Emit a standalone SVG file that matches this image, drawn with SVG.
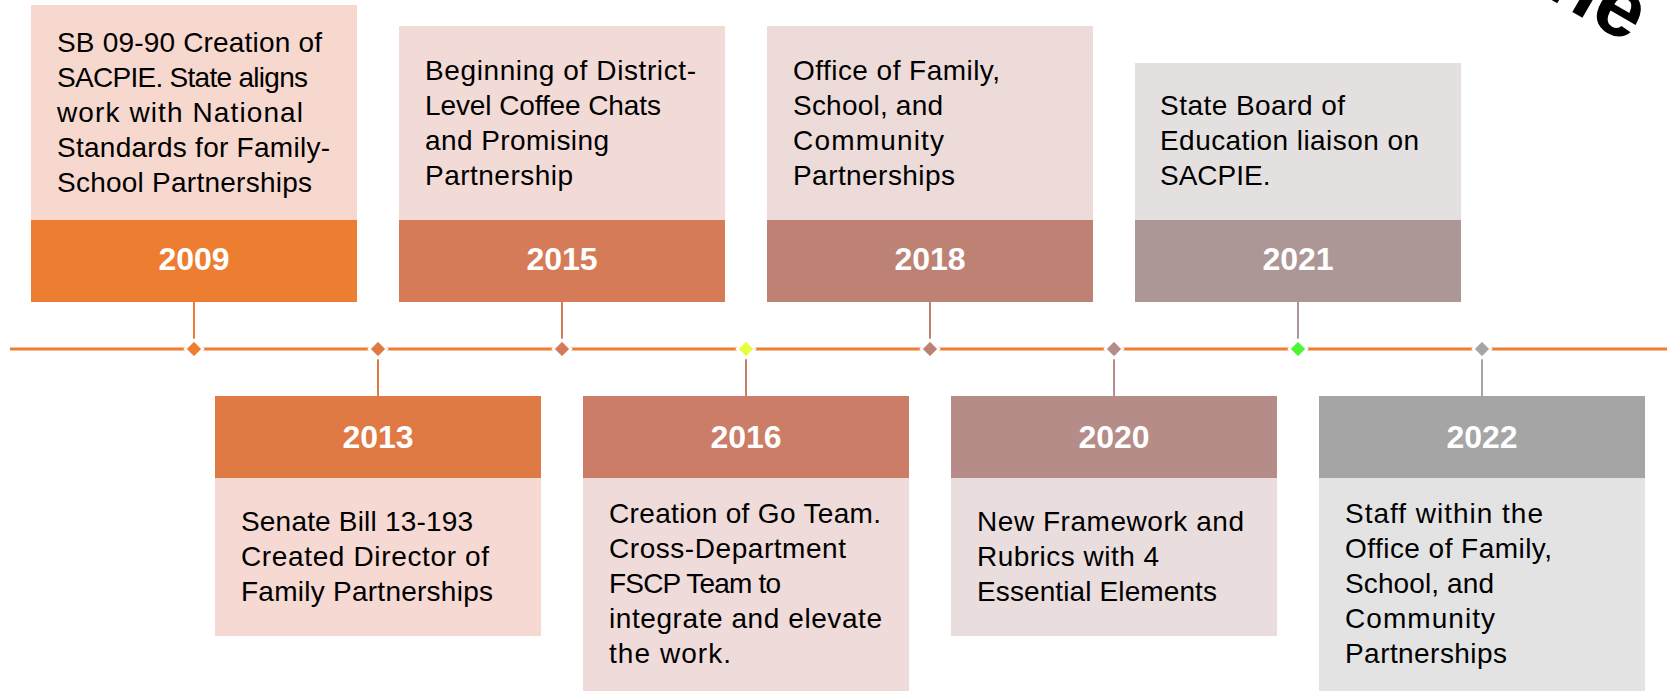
<svg xmlns="http://www.w3.org/2000/svg" width="1667" height="691" viewBox="0 0 1667 691">
<style>
  .body { font-family: "Liberation Sans", Arial, sans-serif; font-size: 28px; fill: #000; }
  .year { font-family: "Liberation Sans", Arial, sans-serif; font-size: 32px; font-weight: bold; fill: #fff; text-anchor: middle; }
  .conn { stroke-width: 2; fill: none; }
  .dia { stroke: #fff; stroke-width: 2.5; }
  .title { font-family: "Liberation Sans", Arial, sans-serif; font-size: 85px; font-weight: bold; fill: #000; }
</style>
<rect width="1667" height="691" fill="#fff"/>

<g id="connectors">
  <line x1="10" y1="349" x2="1667" y2="349" stroke="#ED7D31" stroke-width="3"/>
  <line class="conn" x1="194" y1="302" x2="194" y2="349" stroke="#ED7D31"/>
  <line class="conn" x1="378" y1="349" x2="378" y2="396" stroke="#E07A45"/>
  <line class="conn" x1="562" y1="302" x2="562" y2="349" stroke="#D67B58"/>
  <line class="conn" x1="746" y1="349" x2="746" y2="396" stroke="#CB7D67"/>
  <line class="conn" x1="930" y1="302" x2="930" y2="349" stroke="#BE8275"/>
  <line class="conn" x1="1114" y1="349" x2="1114" y2="396" stroke="#B58C87"/>
  <line class="conn" x1="1298" y1="302" x2="1298" y2="349" stroke="#AD9796"/>
  <line class="conn" x1="1482" y1="349" x2="1482" y2="396" stroke="#A5A5A5"/>
  <path class="dia" d="M194 340 L203 349 L194 358 L185 349 Z" fill="#ED7D31"/>
  <path class="dia" d="M378 340 L387 349 L378 358 L369 349 Z" fill="#E07A45"/>
  <path class="dia" d="M562 340 L571 349 L562 358 L553 349 Z" fill="#D67B58"/>
  <path class="dia" d="M746 340 L755 349 L746 358 L737 349 Z" fill="#E4FF3C"/>
  <path class="dia" d="M930 340 L939 349 L930 358 L921 349 Z" fill="#BE8275"/>
  <path class="dia" d="M1114 340 L1123 349 L1114 358 L1105 349 Z" fill="#B58C87"/>
  <path class="dia" d="M1298 340 L1307 349 L1298 358 L1289 349 Z" fill="#4CF536"/>
  <path class="dia" d="M1482 340 L1491 349 L1482 358 L1473 349 Z" fill="#A5A5A5"/>
</g>

<g id="node-2009">
  <rect x="31" y="5" width="326" height="215" fill="#F7D8CF"/>
  <rect x="31" y="220" width="326" height="82" fill="#ED7D31"/>
  <text class="body"><tspan x="57" y="52" textLength="265">SB 09-90 Creation of</tspan><tspan x="57" y="87" textLength="251">SACPIE. State aligns</tspan><tspan x="57" y="122" textLength="246">work with National</tspan><tspan x="57" y="157" textLength="273">Standards for Family-</tspan><tspan x="57" y="192" textLength="255">School Partnerships</tspan></text>
  <text class="year" x="194" y="270">2009</text>
</g>

<g id="node-2013">
  <rect x="215" y="396" width="326" height="82" fill="#E07A45"/>
  <rect x="215" y="478" width="326" height="158" fill="#F5D9D2"/>
  <text class="year" x="378" y="448">2013</text>
  <text class="body"><tspan x="241" y="531" textLength="232">Senate Bill 13-193</tspan><tspan x="241" y="566" textLength="248">Created Director of</tspan><tspan x="241" y="601" textLength="252">Family Partnerships</tspan></text>
</g>

<g id="node-2015">
  <rect x="399" y="26" width="326" height="194" fill="#F2DAD6"/>
  <rect x="399" y="220" width="326" height="82" fill="#D67B58"/>
  <text class="body"><tspan x="425" y="80" textLength="271">Beginning of District-</tspan><tspan x="425" y="115" textLength="236">Level Coffee Chats</tspan><tspan x="425" y="150" textLength="184">and Promising</tspan><tspan x="425" y="185" textLength="148">Partnership</tspan></text>
  <text class="year" x="562" y="270">2015</text>
</g>

<g id="node-2016">
  <rect x="583" y="396" width="326" height="82" fill="#CB7D67"/>
  <rect x="583" y="478" width="326" height="213" fill="#EFDBD9"/>
  <text class="year" x="746" y="448">2016</text>
  <text class="body"><tspan x="609" y="523" textLength="272">Creation of Go Team.</tspan><tspan x="609" y="558" textLength="237">Cross-Department</tspan><tspan x="609" y="593" textLength="172">FSCP Team to</tspan><tspan x="609" y="628" textLength="273">integrate and elevate</tspan><tspan x="609" y="663" textLength="122">the work.</tspan></text>
</g>

<g id="node-2018">
  <rect x="767" y="26" width="326" height="194" fill="#ECDBD9"/>
  <rect x="767" y="220" width="326" height="82" fill="#BE8275"/>
  <text class="body"><tspan x="793" y="80" textLength="207">Office of Family,</tspan><tspan x="793" y="115" textLength="150">School, and</tspan><tspan x="793" y="150" textLength="151">Community</tspan><tspan x="793" y="185" textLength="162">Partnerships</tspan></text>
  <text class="year" x="930" y="270">2018</text>
</g>

<g id="node-2020">
  <rect x="951" y="396" width="326" height="82" fill="#B58C87"/>
  <rect x="951" y="478" width="326" height="158" fill="#EADDDD"/>
  <text class="year" x="1114" y="448">2020</text>
  <text class="body"><tspan x="977" y="531" textLength="267">New Framework and</tspan><tspan x="977" y="566" textLength="182">Rubrics with 4</tspan><tspan x="977" y="601" textLength="240">Essential Elements</tspan></text>
</g>

<g id="node-2021">
  <rect x="1135" y="63" width="326" height="157" fill="#E5E0E0"/>
  <rect x="1135" y="220" width="326" height="82" fill="#AD9796"/>
  <text class="body"><tspan x="1160" y="115" textLength="185">State Board of</tspan><tspan x="1160" y="150" textLength="259">Education liaison on</tspan><tspan x="1160" y="185">SACPIE.</tspan></text>
  <text class="year" x="1298" y="270">2021</text>
</g>

<g id="node-2022">
  <rect x="1319" y="396" width="326" height="82" fill="#A5A5A5"/>
  <rect x="1319" y="478" width="326" height="213" fill="#E3E3E3"/>
  <text class="year" x="1482" y="448">2022</text>
  <text class="body"><tspan x="1345" y="523" textLength="198">Staff within the</tspan><tspan x="1345" y="558" textLength="207">Office of Family,</tspan><tspan x="1345" y="593" textLength="149">School, and</tspan><tspan x="1345" y="628" textLength="150">Community</tspan><tspan x="1345" y="663" textLength="162">Partnerships</tspan></text>
</g>

<g id="title">
  <text class="title" text-anchor="end" transform="translate(1628,44) rotate(30)">ne</text>
</g>
</svg>
